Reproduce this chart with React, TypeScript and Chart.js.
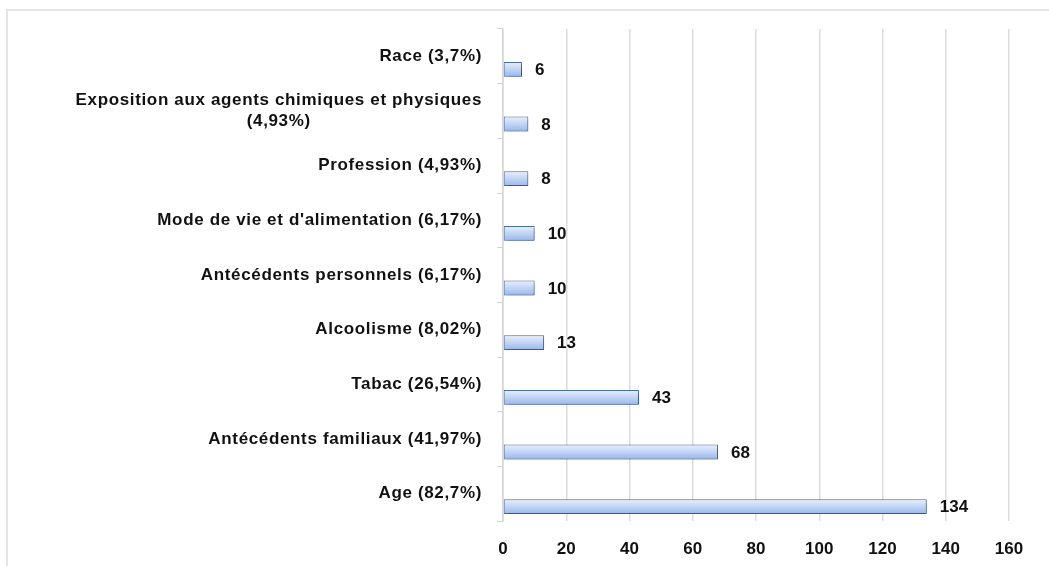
import { useEffect, useRef } from "react";
import { Chart, registerables } from "chart.js";

Chart.register(...registerables);

// Risk factors (top to bottom) and number of patients concerned
const categories: (string | string[])[] = [
  "Race (3,7%)",
  ["Exposition aux agents chimiques et physiques", "(4,93%)"],
  "Profession (4,93%)",
  "Mode de vie et d'alimentation (6,17%)",
  "Antécédents personnels (6,17%)",
  "Alcoolisme (8,02%)",
  "Tabac (26,54%)",
  "Antécédents familiaux (41,97%)",
  "Age (82,7%)",
];
const counts = [6, 8, 8, 10, 10, 13, 43, 68, 134];
const xTickValues = [0, 20, 40, 60, 80, 100, 120, 140, 160];

const W = 1049;
const H = 566;
const FONT = "'Liberation Sans', Arial, sans-serif";
const CAT_PCT = 0.95;
const BAR_PCT = 0.57;
const LABEL_RIGHT = 482;

// vertical gradient for each bar, computed from the category scale
const barFill = (ctx: any) => {
  const chart = ctx.chart;
  const y = chart.scales?.y;
  if (!y || ctx.dataIndex === undefined) return "#c6d8f6";
  const p0 = y.getPixelForValue(0);
  const p1 = y.getPixelForValue(1);
  const pi = y.getPixelForValue(ctx.dataIndex);
  if (![p0, p1, pi].every((v) => Number.isFinite(v))) return "#c6d8f6";
  const band = Math.abs(p1 - p0);
  const slot = (band * CAT_PCT) / 2;
  const center = pi + slot / 2;
  const half = (slot * BAR_PCT) / 2;
  if (!(half > 0)) return "#c6d8f6";
  const g = chart.ctx.createLinearGradient(0, center - half, 0, center + half);
  g.addColorStop(0, "#e9f0fc");
  g.addColorStop(0.4, "#c8daf7");
  g.addColorStop(1, "#98b7ea");
  return g;
};

const barShadow = {
  id: "barShadow",
  beforeDatasetDraw(chart: any, args: any) {
    if (args.index !== 1) return;
    const c = chart.ctx;
    c.save();
    c.shadowColor = "rgba(0,0,0,0.3)";
    c.shadowBlur = 3;
    c.shadowOffsetX = 2;
    c.shadowOffsetY = 2;
  },
  afterDatasetDraw(chart: any, args: any) {
    if (args.index !== 1) return;
    chart.ctx.restore();
  },
};

// category names: right-aligned block, lines centred within the block
const categoryLabels = {
  id: "categoryLabels",
  afterDraw(chart: any) {
    const c = chart.ctx;
    const y = chart.scales.y;
    c.save();
    c.font = `bold 17px ${FONT}`;
    (c as any).letterSpacing = "0.65px";
    c.fillStyle = "#111111";
    c.textAlign = "center";
    c.textBaseline = "middle";
    const lineH = 21;
    categories.forEach((label, i) => {
      const lines = Array.isArray(label) ? label : [label];
      const widths = lines.map((l) => c.measureText(l).width);
      const block = Math.max(...widths);
      const cx = LABEL_RIGHT - block / 2;
      const cy = y.getPixelForTick(i);
      const top = cy - ((lines.length - 1) * lineH) / 2;
      lines.forEach((l, k) => c.fillText(l, cx, top + k * lineH));
    });
    c.restore();
  },
};

// value written just past the end of each bar
const valueLabels = {
  id: "valueLabels",
  afterDatasetsDraw(chart: any) {
    const meta = chart.getDatasetMeta(1);
    const c = chart.ctx;
    c.save();
    c.font = `bold 17px ${FONT}`;
    c.fillStyle = "#111111";
    c.textAlign = "left";
    c.textBaseline = "middle";
    meta.data.forEach((bar: any, i: number) => {
      c.fillText(String(counts[i]), bar.x + 13, bar.y + 1);
    });
    c.restore();
  },
};

export default function App() {
  const ref = useRef<HTMLCanvasElement | null>(null);

  useEffect(() => {
    if (!ref.current) return;
    const chart = new Chart(ref.current, {
      type: "bar",
      data: {
        labels: categories as any,
        datasets: [
          {
            label: "",
            data: categories.map(() => null) as any,
            backgroundColor: "rgba(0,0,0,0)",
          },
          {
            label: "Patients",
            data: counts,
            backgroundColor: barFill as any,
            borderColor: "#4a6fa8",
            borderWidth: 1,
            borderSkipped: false,
          },
        ],
      },
      options: {
        indexAxis: "y",
        animation: false,
        responsive: false,
        devicePixelRatio: 1,
        categoryPercentage: CAT_PCT,
        barPercentage: BAR_PCT,
        layout: { padding: { left: 0, right: W - 1009, top: 29, bottom: 0 } },
        plugins: {
          legend: { display: false },
          tooltip: { enabled: false },
          title: { display: false },
        },
        scales: {
          x: {
            type: "linear",
            min: 0,
            max: 160,
            afterBuildTicks: (scale: any) => {
              scale.ticks = xTickValues.map((v) => ({ value: v }));
            },
            afterFit: (scale: any) => {
              scale.height = H - 521;
            },
            grid: {
              color: "#dcdcdc",
              lineWidth: 1.5,
              drawTicks: false,
            },
            border: { display: false },
            ticks: {
              padding: 18,
              color: "#111111",
              font: { family: FONT, size: 17, weight: "bold" },
            },
          },
          y: {
            type: "category",
            afterFit: (scale: any) => {
              scale.width = 503;
            },
            grid: {
              offset: true,
              drawOnChartArea: false,
              color: "#d4d4d4",
              tickLength: 6,
            },
            border: { display: true, color: "#d4d4d4", width: 1.5 },
            ticks: { display: false },
          },
        },
      },
      plugins: [barShadow, valueLabels, categoryLabels],
    });
    return () => chart.destroy();
  }, []);

  return (
    <div
      style={{
        position: "fixed",
        left: 0,
        top: 0,
        width: W,
        height: H,
        overflow: "hidden",
        background: "#ffffff",
      }}
    >
      <div
        style={{
          position: "absolute",
          left: 6,
          top: 9,
          width: W + 20,
          height: H + 20,
          border: "2px solid #e4e4e4",
          boxSizing: "border-box",
        }}
      />
      <canvas
        ref={ref}
        width={W}
        height={H}
        style={{ position: "absolute", left: 0, top: 0, width: W, height: H }}
      />
    </div>
  );
}
